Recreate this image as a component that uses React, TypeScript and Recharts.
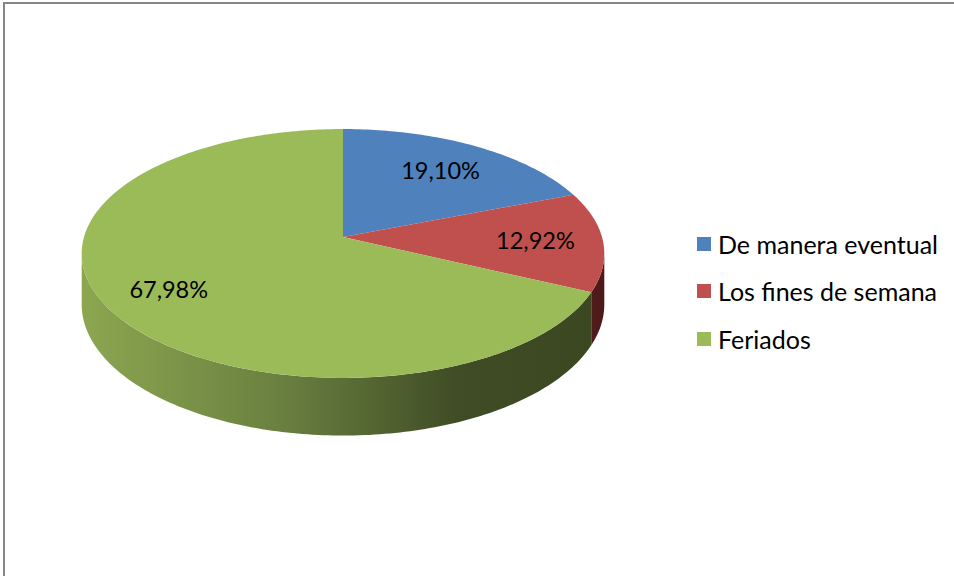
import { PieChart, Pie, Legend } from "recharts";

const categories = ["De manera eventual", "Los fines de semana", "Feriados"];
const shares = [19.1, 12.92, 67.98];
const topColors = ["#4f81bd", "#c0504d", "#9bbb59"];
const wallFills = ["#3a5f8c", "url(#wallRed)", "url(#wallGreen)"];

const data = categories.map((name, i) => ({ name, value: shares[i], fill: topColors[i] }));

// fake 3D: tilt ratio, perspective and thickness
const TILT = 0.472;
const PERSP = 0.1325;
const DEPTH = 50;
const RAD = Math.PI / 180;
const FONT = "Lato, 'Open Sans', sans-serif";

function proj(cx: number, cy: number, r: number, deg: number, drop = 0) {
  const x = Math.cos(deg * RAD);
  const y = Math.sin(deg * RAD);
  const d = 1 + PERSP * y;
  return [cx + (r * x) / d, cy - (r * TILT * y) / d + drop / d];
}

function arcPts(cx: number, cy: number, r: number, a1: number, a2: number, drop = 0) {
  const n = Math.max(2, Math.ceil(Math.abs(a2 - a1)));
  const pts: number[][] = [];
  for (let i = 0; i <= n; i++) pts.push(proj(cx, cy, r, a1 + ((a2 - a1) * i) / n, drop));
  return pts;
}

const toD = (pts: number[][]) => pts.map((p, i) => `${i ? "L" : "M"}${p[0].toFixed(2)},${p[1].toFixed(2)}`).join(" ");

function Slice(props: any) {
  const { cx, cy, outerRadius, startAngle, endAngle, index } = props;
  const hi = Math.max(startAngle, endAngle);
  const lo = Math.min(startAngle, endAngle);
  const edge = Math.asin(PERSP) / RAD;
  const walls: string[] = [];
  for (const shift of [0, -360]) {
    const a = Math.max(lo, -180 + edge + shift);
    const b = Math.min(hi, -edge + shift);
    if (b > a) {
      const top = arcPts(cx, cy, outerRadius, b, a);
      const bottom = arcPts(cx, cy, outerRadius, a, b, DEPTH);
      walls.push(toD([...top, ...bottom]) + " Z");
    }
  }
  const face = `M${cx},${cy} ` + toD(arcPts(cx, cy, outerRadius, startAngle, endAngle)).replace(/^M/, "L") + " Z";
  return (
    <g>
      {walls.map((d, i) => (
        <path key={i} d={d} fill={wallFills[index] ?? props.fill} stroke="none" />
      ))}
      <path d={face} fill={props.fill} stroke="none" />
    </g>
  );
}

function SliceLabel(props: any) {
  const { cx, cy, outerRadius, midAngle, percent } = props;
  const [x, y] = proj(cx, cy, outerRadius * 0.74, midAngle);
  const txt = (percent * 100).toFixed(2).replace(".", ",") + "%";
  return (
    <text x={x} y={y} textAnchor="middle" dominantBaseline="central" fill="#000" fontSize={23.5} fontFamily={FONT}>
      {txt}
    </text>
  );
}

function LegendBox() {
  return (
    <div style={{ fontFamily: FONT, fontSize: 25, color: "#000" }}>
      {categories.map((name, i) => (
        <div key={name} style={{ display: "flex", alignItems: "center", height: 47.5 }}>
          <span style={{ width: 14, height: 14, background: topColors[i], display: "inline-block", marginRight: 7 }} />
          <span>{name}</span>
        </div>
      ))}
    </div>
  );
}

export default function App() {
  return (
    <div style={{ position: "fixed", left: 0, top: 0, width: 954, height: 576, overflow: "hidden", background: "#fff" }}>
      <div style={{ position: "absolute", left: 3, top: 2, width: 1200, height: 900, borderLeft: "2px solid #868686", borderTop: "2px solid #868686" }} />
      <PieChart width={954} height={576} margin={{ top: 0, right: 0, bottom: 0, left: 0 }} style={{ position: "absolute", left: 0, top: 0 }}>
        <defs>
          <linearGradient id="wallGreen" gradientUnits="userSpaceOnUse" x1={82} y1={0} x2={606} y2={0}>
            <stop offset="0" stopColor="#8ca650" />
            <stop offset="0.38" stopColor="#6a8040" />
            <stop offset="0.72" stopColor="#3f4c25" />
            <stop offset="1" stopColor="#3a4721" />
          </linearGradient>
          <linearGradient id="wallRed" gradientUnits="userSpaceOnUse" x1={560} y1={0} x2={606} y2={0}>
            <stop offset="0" stopColor="#5e2120" />
            <stop offset="1" stopColor="#4a1918" />
          </linearGradient>
        </defs>
        <Pie
          data={data}
          dataKey="value"
          nameKey="name"
          cx={343}
          cy={237}
          outerRadius={259}
          startAngle={90}
          endAngle={-270}
          stroke="none"
          shape={Slice}
          activeShape={Slice}
          label={SliceLabel}
          labelLine={false}
          isAnimationActive={false}
        />
        <Legend
          layout="vertical"
          content={LegendBox}
          wrapperStyle={{ left: 697, top: 220, width: 257, right: "auto", bottom: "auto" }}
        />
      </PieChart>
    </div>
  );
}
